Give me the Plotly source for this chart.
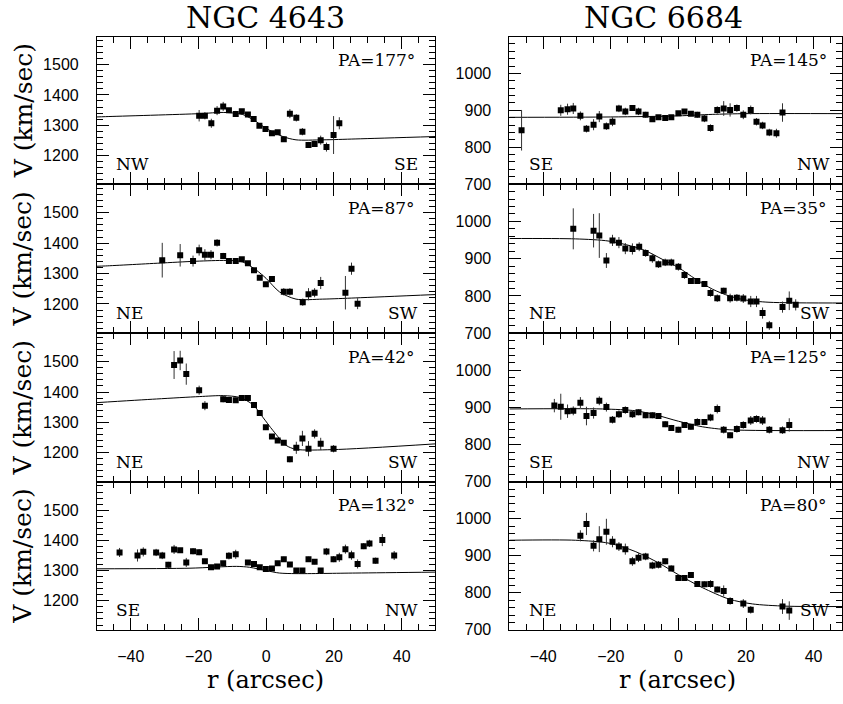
import plotly.graph_objects as go

# ---------------- NGC 4643 ----------------
r_4643_177 = [-19.8, -18.1, -16.2, -14.5, -12.7, -11.0, -9.0, -7.2, -5.4, -3.7, -2.0, -0.2, 1.7, 3.4, 5.2, 7.0, 8.9, 10.7, 12.5, 14.3, 16.1, 17.8, 19.9, 21.6]
v_4643_177 = [1331, 1331, 1306, 1348, 1362, 1349, 1337, 1346, 1335, 1320, 1298, 1287, 1273, 1276, 1253, 1338, 1324, 1278, 1234, 1237, 1250, 1227, 1267, 1306]
e_4643_177 = [19, 12, 15, 15, 15, 8, 10, 6, 6, 6, 6, 6, 6, 6, 8, 15, 12, 12, 10, 8, 15, 15, 63, 20]
fr_4643_177 = [-50, -47.5, -19.6, -12.7, -6.9, -2.9, 0, 4.9, 8.8, 16.7, 26.5, 50]
fv_4643_177 = [1327, 1328, 1338, 1342, 1335, 1311, 1289, 1262, 1251, 1251, 1254, 1262]

r_4643_87 = [-30.7, -25.4, -21.6, -19.8, -18.1, -16.3, -14.5, -12.7, -11.0, -9.0, -7.2, -5.4, -3.6, -1.9, -0.1, 1.7, 5.2, 7.0, 10.8, 12.5, 14.3, 16.1, 23.4, 25.2, 27.0]
v_4643_87 = [1344, 1360, 1341, 1377, 1362, 1362, 1401, 1358, 1341, 1341, 1347, 1334, 1311, 1286, 1265, 1282, 1240, 1240, 1206, 1232, 1237, 1269, 1237, 1316, 1201]
e_4643_87 = [57, 37, 18, 18, 18, 15, 12, 10, 8, 6, 6, 6, 6, 6, 6, 8, 12, 12, 12, 20, 15, 20, 55, 20, 18]
fr_4643_87 = [-50, -47.5, -30.4, -19.6, -10.8, -6.9, -2.9, 0, 3.9, 8.8, 16.7, 26.5, 50]
fv_4643_87 = [1324, 1325, 1335, 1341, 1343, 1338, 1311, 1284, 1240, 1216, 1216, 1220, 1231]

r_4643_42 = [-27.2, -25.4, -23.6, -19.8, -18.1, -12.7, -11.0, -9.0, -7.2, -5.4, -3.6, -1.9, -0.1, 1.7, 3.4, 5.2, 7.0, 8.9, 10.7, 12.5, 14.3, 16.1, 19.9]
v_4643_42 = [1489, 1504, 1459, 1406, 1355, 1376, 1374, 1373, 1380, 1380, 1357, 1331, 1284, 1253, 1240, 1233, 1178, 1216, 1247, 1213, 1262, 1229, 1213]
e_4643_42 = [46, 32, 35, 15, 15, 10, 10, 8, 8, 8, 6, 6, 6, 6, 6, 8, 10, 20, 25, 25, 15, 20, 12]
fr_4643_42 = [-50, -32.4, -19.6, -12.7, -7.8, -3.9, -1.0, 2.0, 5.9, 8.8, 19.6, 50]
fv_4643_42 = [1365, 1377, 1385, 1388, 1382, 1358, 1317, 1273, 1224, 1211, 1210, 1229]

r_4643_132 = [-43.3, -38.0, -36.3, -32.5, -30.7, -28.9, -27.2, -25.4, -23.6, -21.6, -19.8, -18.1, -16.3, -14.5, -12.7, -11.0, -9.0, -5.4, -3.6, -1.9, -0.1, 1.7, 3.4, 5.2, 7.0, 8.9, 10.7, 12.5, 14.3, 16.1, 17.8, 19.9, 21.6, 23.4, 25.2, 27.0, 28.8, 30.5, 32.3, 34.3, 37.8]
v_4643_132 = [1360, 1350, 1362, 1360, 1350, 1319, 1370, 1367, 1327, 1364, 1361, 1331, 1311, 1314, 1324, 1349, 1354, 1327, 1322, 1311, 1305, 1307, 1324, 1338, 1320, 1300, 1300, 1338, 1329, 1300, 1363, 1338, 1344, 1371, 1351, 1322, 1381, 1390, 1333, 1401, 1350]
e_4643_132 = [15, 20, 15, 12, 12, 10, 15, 8, 15, 10, 10, 8, 8, 8, 8, 12, 15, 6, 6, 6, 6, 6, 8, 8, 6, 8, 8, 8, 8, 6, 12, 10, 15, 15, 15, 15, 10, 12, 10, 20, 15]
fr_4643_132 = [-50, -22.5, -8.8, -4.9, 0, 3.9, 8.8, 26.5, 50]
fv_4643_132 = [1306, 1308, 1314, 1311, 1300, 1292, 1290, 1292, 1295]

# ---------------- NGC 6684 ----------------
r_6684_145 = [-46.4, -34.8, -32.8, -31.1, -29.0, -27.2, -25.1, -23.4, -21.3, -19.5, -17.6, -15.7, -13.6, -11.8, -9.7, -7.7, -5.9, -3.9, -2.1, 0.0, 1.8, 3.7, 5.6, 7.7, 9.5, 11.5, 13.4, 15.3, 17.3, 19.2, 21.4, 23.1, 24.9, 26.9, 29.0, 30.8]
v_6684_145 = [846, 900, 903, 905, 885, 850, 861, 883, 857, 869, 905, 897, 906, 897, 888, 876, 881, 879, 881, 892, 897, 891, 888, 878, 852, 901, 905, 901, 906, 888, 901, 869, 859, 840, 838, 894]
e_6684_145 = [55, 15, 15, 15, 12, 10, 15, 15, 10, 12, 10, 10, 6, 10, 8, 6, 6, 6, 6, 6, 6, 6, 8, 10, 10, 10, 20, 18, 10, 12, 12, 10, 10, 10, 12, 25]
fr_6684_145 = [-50, -20, 0, 10, 20, 50]
fv_6684_145 = [881, 882, 885, 889, 891, 891]

r_6684_35 = [-31.1, -25.1, -23.4, -21.3, -19.5, -17.6, -15.7, -13.6, -11.6, -9.7, -7.7, -5.9, -3.9, -2.1, 0.0, 1.8, 3.7, 5.6, 7.7, 9.5, 11.5, 13.4, 15.3, 17.3, 19.2, 21.4, 23.1, 24.9, 26.9, 30.8, 32.8, 34.7]
v_6684_35 = [980, 975, 962, 895, 949, 943, 927, 926, 932, 915, 901, 885, 890, 890, 878, 856, 840, 840, 832, 808, 794, 814, 794, 795, 793, 785, 785, 754, 721, 770, 787, 776]
e_6684_35 = [55, 45, 60, 20, 15, 15, 15, 15, 12, 10, 12, 10, 10, 10, 10, 10, 8, 8, 8, 10, 10, 8, 12, 10, 12, 15, 15, 15, 12, 15, 25, 15]
fr_6684_35 = [-50, -30.4, -20.5, -10.7, -4.7, 0, 5.1, 10.1, 15.0, 19.9, 26.8, 50]
fv_6684_35 = [954, 953, 947, 925, 898, 876, 845, 818, 800, 789, 783, 781]

r_6684_125 = [-36.7, -34.8, -32.8, -31.1, -29.0, -27.2, -25.1, -23.4, -21.3, -19.5, -17.6, -15.7, -13.6, -11.8, -9.7, -7.7, -5.9, -3.9, -2.1, 0.0, 1.8, 3.7, 5.6, 7.7, 9.5, 11.5, 13.4, 15.3, 17.3, 19.2, 21.4, 23.1, 24.9, 26.9, 30.8, 32.8]
v_6684_125 = [905, 902, 890, 891, 913, 877, 885, 918, 901, 867, 882, 893, 882, 887, 879, 879, 877, 855, 845, 840, 853, 848, 861, 861, 873, 896, 840, 825, 842, 853, 865, 869, 865, 840, 839, 853]
e_6684_125 = [18, 35, 18, 12, 15, 25, 15, 12, 12, 10, 10, 10, 10, 8, 8, 8, 8, 8, 8, 8, 8, 8, 10, 8, 10, 12, 10, 8, 10, 10, 12, 10, 12, 10, 10, 18]
fr_6684_125 = [-50, -22.5, -12.6, -6.7, 0, 7.1, 15.0, 50]
fv_6684_125 = [896, 896, 891, 880, 863, 848, 840, 838]

r_6684_80 = [-29.0, -27.2, -25.1, -23.4, -21.3, -19.5, -17.6, -15.7, -13.6, -11.8, -9.7, -7.7, -5.9, -3.9, -2.1, 0.0, 1.8, 3.7, 5.6, 7.7, 9.5, 11.5, 13.4, 15.3, 19.2, 21.4, 30.8, 32.8]
v_6684_80 = [954, 986, 927, 945, 965, 938, 925, 918, 885, 895, 898, 874, 876, 885, 866, 840, 840, 848, 824, 823, 824, 809, 805, 778, 771, 754, 763, 752]
e_6684_80 = [15, 30, 15, 35, 35, 15, 12, 15, 12, 12, 10, 10, 10, 8, 8, 8, 8, 6, 8, 8, 10, 8, 15, 10, 12, 10, 20, 25]
fr_6684_80 = [-50, -30.4, -20.5, -12.6, -5.7, 0, 7.1, 15.0, 21.9, 31.8, 50]
fv_6684_80 = [942, 942, 934, 911, 880, 849, 814, 783, 770, 764, 763]

titles = ["NGC 4643", "NGC 6684"]
pa_labels = [["PA=177°", "PA=87°", "PA=42°", "PA=132°"], ["PA=145°", "PA=35°", "PA=125°", "PA=80°"]]
side_labels = [[("NW", "SE"), ("NE", "SW"), ("NE", "SW"), ("SE", "NW")],
               [("SE", "NW"), ("NE", "SW"), ("SE", "NW"), ("NE", "SW")]]
y_ticks = [[1200, 1300, 1400, 1500], [700, 800, 900, 1000]]
x_ticks = [-40, -20, 0, 20, 40]

panels = [
    [(r_4643_177, v_4643_177, e_4643_177, fr_4643_177, fv_4643_177),
     (r_4643_87, v_4643_87, e_4643_87, fr_4643_87, fv_4643_87),
     (r_4643_42, v_4643_42, e_4643_42, fr_4643_42, fv_4643_42),
     (r_4643_132, v_4643_132, e_4643_132, fr_4643_132, fv_4643_132)],
    [(r_6684_145, v_6684_145, e_6684_145, fr_6684_145, fv_6684_145),
     (r_6684_35, v_6684_35, e_6684_35, fr_6684_35, fv_6684_35),
     (r_6684_125, v_6684_125, e_6684_125, fr_6684_125, fv_6684_125),
     (r_6684_80, v_6684_80, e_6684_80, fr_6684_80, fv_6684_80)],
]

W, H = 843, 704
x_dom = [[97 / W, 436 / W], [510 / W, 1.0]]
x_rng = [[-50, 50], [-50, 48.4]]
y_rng = [[1104, 1594], [700, 1100]]
edges_px = [37, 186.5, 337.5, 488, 638]
y_dom = [[1 - edges_px[i + 1] / H, 1 - edges_px[i] / H] for i in range(4)]

SERIF = "DejaVu Serif"
SANS = "Liberation Sans"

fig = go.Figure()
layout = dict(width=W, height=H, margin=dict(l=0, r=0, t=0, b=0),
              paper_bgcolor="white", plot_bgcolor="white", showlegend=False)
annotations = []

idx = 0
for c in range(2):
    for row in range(4):
        idx += 1
        xa = "x" if idx == 1 else f"x{idx}"
        ya = "y" if idx == 1 else f"y{idx}"
        r, v, e, fr, fv = panels[c][row]
        fig.add_trace(go.Scatter(x=fr, y=fv, mode="lines", line=dict(color="black", width=1, shape="spline", smoothing=0.8),
                                 xaxis=xa, yaxis=ya, hoverinfo="skip"))
        fig.add_trace(go.Scatter(x=r, y=v, mode="markers",
                                 marker=dict(symbol="square", size=6, color="black"),
                                 error_y=dict(type="data", array=e, width=0, thickness=1, color="#333"),
                                 xaxis=xa, yaxis=ya))
        bottom = row == 3
        layout["xaxis" if idx == 1 else f"xaxis{idx}"] = dict(
            domain=x_dom[c], range=x_rng[c], anchor=ya,
            showline=True, linecolor="black", linewidth=1, mirror="allticks",
            ticks="inside", ticklen=12, tickwidth=1, tickcolor="black",
            tickvals=x_ticks, showticklabels=bottom, ticklabelstandoff=12,
            tickfont=dict(family=SANS, size=16, color="black"),
            minor=dict(dtick=5, tick0=0, ticks="inside", ticklen=6, tickwidth=1, tickcolor="black"),
            showgrid=False, zeroline=False, fixedrange=True,
        )
        layout["yaxis" if idx == 1 else f"yaxis{idx}"] = dict(
            domain=y_dom[row], range=y_rng[c], anchor=xa,
            showline=True, linecolor="black", linewidth=1, mirror="allticks",
            ticks="inside", ticklen=12, tickwidth=1, tickcolor="black",
            tickvals=y_ticks[c], showticklabels=True, ticklabelstandoff=14,
            tickfont=dict(family=SANS, size=16, color="black"),
            minor=dict(dtick=20, tick0=0, ticks="inside", ticklen=6, tickwidth=1, tickcolor="black"),
            showgrid=False, zeroline=False, fixedrange=True,
        )
        xr = xa
        annotations.append(dict(text=pa_labels[c][row], xref=xr, yref=f"{ya} domain", x=44.5, y=0.842,
                                xanchor="right", yanchor="middle", showarrow=False,
                                font=dict(family=SERIF, size=17, color="black")))
        lft, rgt = side_labels[c][row]
        annotations.append(dict(text=lft, xref=xr, yref=f"{ya} domain", x=-44.8, y=0.133,
                                xanchor="left", yanchor="middle", showarrow=False,
                                font=dict(family=SERIF, size=17, color="black")))
        annotations.append(dict(text=rgt, xref=xr, yref=f"{ya} domain", x=45.4, y=0.133,
                                xanchor="right", yanchor="middle", showarrow=False,
                                font=dict(family=SERIF, size=17, color="black")))
        if c == 0:
            annotations.append(dict(text="V (km/sec)", xref="paper", yref="paper",
                                    x=23 / W, y=(y_dom[row][0] + y_dom[row][1]) / 2,
                                    xanchor="center", yanchor="middle", textangle=-90, showarrow=False,
                                    font=dict(family=SERIF, size=25, color="black")))

annotations.append(dict(text=titles[0], xref="paper", yref="paper", x=266 / W, y=1 - 18 / H,
                        xanchor="center", yanchor="middle", showarrow=False,
                        font=dict(family=SERIF, size=30, color="black")))
annotations.append(dict(text=titles[1], xref="paper", yref="paper", x=664 / W, y=1 - 18 / H,
                        xanchor="center", yanchor="middle", showarrow=False,
                        font=dict(family=SERIF, size=30, color="black")))
for xc in (266, 678):
    annotations.append(dict(text="r (arcsec)", xref="paper", yref="paper", x=xc / W, y=1 - 689 / H,
                            xanchor="center", yanchor="middle", showarrow=False,
                            font=dict(family=SERIF, size=24, color="black")))

layout["annotations"] = annotations
fig.update_layout(**layout)
fig.write_html("out.html")
